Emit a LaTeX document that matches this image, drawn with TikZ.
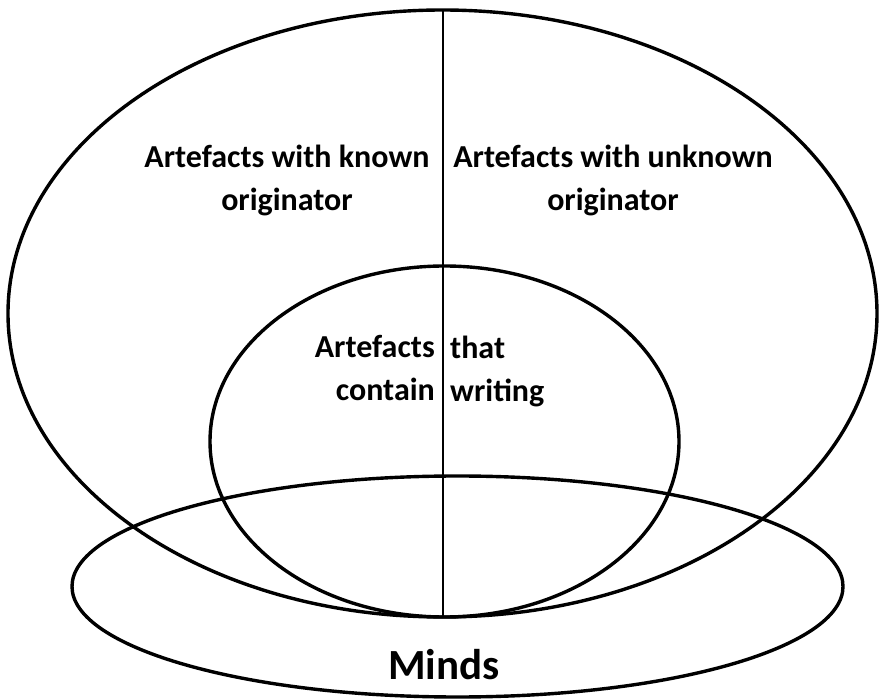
\documentclass[tikz,border=0pt]{standalone}
\usepackage{fontspec}
\setmainfont{Carlito}
\usepackage{tikz}
\usetikzlibrary{positioning}
\tikzset{
  ring/.style={line width=3.4pt},
  divider/.style={line width=2.2pt},
  lbl/.style={font=\bfseries\fontsize{32}{43}\selectfont, inner sep=0pt, align=center},
}

\begin{document}
\begin{tikzpicture}[x=1pt,y=-1pt]
	\useasboundingbox (0,0) rectangle (879,700);
	% the three sets
	\draw[ring] (442.5,313.5) ellipse [x radius=434.5, y radius=303.5];
	\draw[ring] (444.5,441.5) ellipse [x radius=234.5, y radius=175.5];
	\draw[ring] (457.5,586.5) ellipse [x radius=385.5, y radius=110.5];
	\coordinate (top) at (443,10);
	\coordinate (bottom) at (443,617);
	\draw[divider] (top) -- (bottom);
	\node[lbl] (known) at (287,180) {Artefacts with known\\originator};
	\node[lbl] (unknown) at (613,180) {Artefacts with unknown\\originator};
	\node[lbl, align=right, anchor=east] (writingL) at (435,368) {Artefacts\\contain};
	\node[lbl, align=left, anchor=west] (writingR) at (450,371) {that\\writing};
	\node[font=\bfseries\fontsize{43}{50}\selectfont, inner sep=0pt, anchor=base] (minds) at (444,679) {Minds};
\end{tikzpicture}
\end{document}
